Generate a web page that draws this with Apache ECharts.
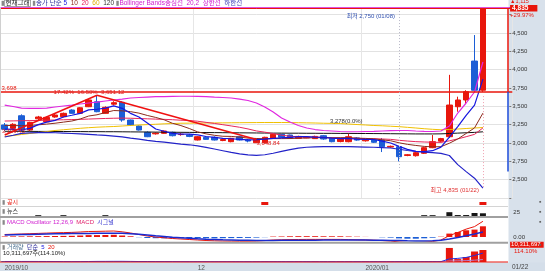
<!DOCTYPE html>
<html><head><meta charset="utf-8">
<script src="https://cdn.jsdelivr.net/npm/echarts@6/dist/echarts.min.js"></script>
<style>html,body{margin:0;padding:0;background:#fff}#c{width:545px;height:271px}</style>
</head><body><div id="c"></div>
<script>
const dates = ['2019/10/30','2019/10/31','2019/11/01','2019/11/04','2019/11/05','2019/11/06','2019/11/07','2019/11/08','2019/11/11','2019/11/12','2019/11/13','2019/11/14','2019/11/15','2019/11/18','2019/11/19','2019/11/20','2019/11/21','2019/11/22','2019/11/25','2019/11/26','2019/11/27','2019/11/28','2019/11/29','2019/12/02','2019/12/03','2019/12/04','2019/12/05','2019/12/06','2019/12/09','2019/12/10','2019/12/11','2019/12/12','2019/12/13','2019/12/16','2019/12/17','2019/12/18','2019/12/19','2019/12/20','2019/12/23','2019/12/24','2019/12/26','2019/12/27','2019/12/30','2020/01/02','2020/01/03','2020/01/06','2020/01/07','2020/01/08','2020/01/09','2020/01/10','2020/01/13','2020/01/14','2020/01/15','2020/01/16','2020/01/17','2020/01/20','2020/01/21','2020/01/22'];
const openP = [3246,3200,3372,3177,3330,3290,3355,3359,3450,3405,3495,3563,3405,3530,3555,3314,3232,3146,3125,3132,3146,3115,3109,3041,3078,3078,3034,3018,3086,3041,3004,3004,3064,3119,3109,3064,3070,3060,3100,3064,3020,3018,3070,3030,3040,3041,2945,2950,2830,2827,2860,2936,3025,3086,3495,3587,4118,3720];
const closeP = [3187,3255,3177,3282,3355,3350,3382,3405,3405,3481,3587,3427,3487,3550,3314,3245,3177,3086,3135,3164,3100,3120,3090,3086,3050,3041,3048,3064,3041,3027,3050,3078,3119,3078,3064,3090,3078,3090,3055,3018,3060,3086,3040,3045,3010,2950,2955,2813,2840,2868,2936,3018,3060,3518,3587,3700,3720,4835];
const lowP = [3164,3190,3154,3165,3300,3285,3345,3350,3400,3400,3490,3420,3400,3515,3290,3235,3170,3080,3115,3125,3090,3100,3080,3035,3045,3035,3025,3010,3035,3010,3000,2995,3060,3070,3055,3060,3065,3055,3045,3010,3010,3010,3030,3020,3000,2877,2935,2750,2820,2815,2850,2930,3015,3070,3427,3530,3700,3698];
const highP = [3273,3270,3391,3290,3370,3360,3395,3415,3460,3490,3600,3651,3500,3570,3570,3320,3240,3160,3145,3170,3155,3140,3125,3095,3085,3090,3060,3070,3095,3055,3060,3085,3130,3125,3115,3100,3090,3100,3110,3075,3070,3132,3080,3055,3050,3068,2965,2960,2850,2880,2945,3109,3070,3930,3632,3720,4473,4835];
const ma5 = [3190,3185,3180,3200,3251,3284,3309,3355,3379,3405,3452,3461,3477,3506,3473,3405,3355,3274,3191,3161,3132,3121,3122,3112,3089,3077,3063,3058,3049,3044,3046,3052,3063,3070,3078,3086,3086,3080,3075,3066,3060,3062,3052,3050,3048,3026,3000,2955,2914,2885,2882,2895,2944,3080,3224,3377,3517,3872];
const ma10 = [3240,3238,3236,3240,3248,3258,3270,3285,3300,3328,3368,3385,3416,3443,3439,3428,3408,3376,3349,3317,3269,3238,3198,3152,3125,3105,3092,3090,3080,3067,3062,3058,3060,3060,3061,3066,3069,3072,3073,3072,3073,3074,3066,3063,3057,3043,3031,3003,2982,2967,2954,2948,2950,2997,3055,3130,3206,3408];
const ma20 = [3300,3302,3304,3306,3308,3311,3314,3317,3320,3323,3327,3331,3335,3338,3340,3338,3334,3330,3326,3323,3318,3311,3307,3297,3282,3267,3250,3233,3215,3192,3165,3148,3129,3106,3093,3085,3080,3081,3077,3069,3067,3066,3063,3061,3059,3055,3050,3037,3027,3019,3014,3011,3008,3030,3056,3086,3118,3206];
const ma60 = [3089,3102,3116,3130,3143,3157,3171,3181,3191,3201,3209,3216,3221,3225,3232,3239,3246,3251,3256,3262,3266,3270,3271,3272,3273,3274,3275,3276,3277,3278,3279,3280,3280,3280,3279,3277,3275,3273,3270,3268,3266,3259,3252,3246,3239,3235,3229,3223,3214,3205,3195,3187,3181,3184,3191,3198,3205,3211];
const ma120 = [3160,3160,3159,3159,3158,3158,3157,3157,3156,3156,3155,3155,3154,3154,3153,3152,3151,3150,3149,3148,3147,3146,3145,3144,3143,3142,3141,3140,3139,3138,3137,3136,3135,3135,3134,3134,3133,3133,3132,3132,3131,3131,3130,3130,3129,3128,3127,3126,3125,3124,3124,3124,3125,3130,3135,3140,3145,3153];
const bbUpper = [3518,3498,3477,3473,3473,3477,3491,3505,3518,3532,3546,3559,3573,3587,3600,3614,3621,3627,3632,3634,3637,3638,3638,3637,3634,3627,3621,3614,3600,3580,3546,3491,3423,3341,3286,3239,3205,3184,3171,3164,3157,3154,3154,3157,3160,3164,3168,3171,3171,3164,3160,3157,3164,3232,3409,3546,3696,4105];
const bbLower = [3082,3106,3131,3139,3143,3145,3140,3135,3130,3125,3118,3110,3103,3095,3085,3068,3052,3036,3022,3012,2999,2984,2976,2962,2940,2918,2895,2872,2852,2838,2832,2840,2860,2885,2910,2930,2942,2948,2950,2950,2950,2950,2948,2945,2942,2938,2932,2915,2898,2885,2875,2868,2858,2830,2705,2610,2520,2385];
const volume = [420000,380000,650000,520000,300000,350000,280000,330000,310000,450000,720000,680000,420000,390000,560000,380000,330000,410000,260000,240000,230000,190000,210000,250000,200000,190000,170000,220000,180000,160000,210000,260000,300000,210000,180000,170000,150000,160000,190000,210000,200000,230000,180000,170000,210000,320000,200000,450000,230000,210000,280000,380000,330000,12100000,2500000,4300000,9037000,10311697];
const vol5 = [450000,440000,460000,470000,454000,440000,420000,366000,314000,344000,418000,498000,522000,562000,554000,486000,416000,414000,352000,324000,314000,266000,226000,224000,216000,208000,202000,206000,192000,184000,188000,206000,222000,228000,228000,224000,202000,174000,170000,178000,182000,198000,202000,198000,198000,222000,216000,270000,282000,278000,278000,310000,330000,2660000,3120000,3940000,5650000,7650000];
const vol20 = [400000,402000,408000,412000,410000,408000,405000,400000,398000,400000,410000,420000,425000,428000,432000,430000,425000,420000,412000,404000,396000,386000,372000,360000,346000,332000,318000,306000,294000,282000,270000,260000,252000,245000,238000,232000,226000,220000,215000,212000,210000,210000,210000,209000,209000,212000,214000,222000,225000,226000,230000,236000,245000,840000,955000,1160000,1600000,2100000];
const macd = [25,28,30,33,36,39,42,44,46,50,55,56,58,60,52,40,25,10,0,-8,-15,-20,-25,-30,-35,-38,-40,-41,-42,-42,-40,-36,-30,-28,-26,-25,-24,-24,-24,-24,-24,-26,-28,-30,-32,-36,-40,-50,-55,-56,-52,-45,-30,14,45,79,104,157];
const signal = [20,22,24,26,28,30,32,33,34,35,36,37,38,38,37,33,27,20,12,5,-2,-8,-13,-18,-22,-25,-28,-30,-32,-33,-34,-34,-34,-33,-33,-33,-32,-32,-31,-31,-31,-31,-31,-31,-32,-33,-34,-36,-38,-39,-39,-38,-33,-20,-5,12,30,50];
const osc = [5,6,6,7,8,9,10,11,12,15,19,19,20,22,15,7,-2,-10,-12,-13,-13,-12,-12,-12,-13,-13,-12,-11,-10,-9,-6,-2,4,5,7,8,8,8,7,7,7,5,3,1,0,-3,-6,-14,-17,-17,-13,-7,3,34,50,67,74,107];
const news = [0,0,0,0,6,0,0,6,0,0,0,0,6,0,0,0,0,0,0,0,0,0,0,0,0,0,0,0,0,0,0,0,0,0,0,0,0,0,0,0,0,0,0,0,0,0,0,0,0,0,6,6,0,28,7,7,22,20];
const disclosure = [0,0,0,0,0,0,0,0,0,0,0,0,0,0,0,0,0,0,0,0,0,0,0,0,0,0,0,0,0,0,0,1,0,0,0,0,0,0,0,0,0,0,0,0,0,0,0,0,0,0,0,0,0,0,0,0,0,1];
const priceTicks = [2500,2750,3000,3250,3500,3750,4000,4250,4500];
const xTickIndex = [0,23,43];
const xTickText = ['2019/10','12','2020/01'];
const lastDate = '01/22';

const RED='#e8160c', BLUE='#1c5ed6';
const FF = "'Liberation Sans','DejaVu Sans','Noto Sans CJK KR',sans-serif";
const cats = dates.concat([' ','  ','   ']);
const GL = 0.5, GW = 61*8.39;
const gridTops = [[7.4,190.6],[199,6],[207.5,8.5],[218,24],[244,18]];
const chart = echarts.init(document.getElementById('c'));

const xAxes = gridTops.map((g,i)=>({
  type:'category', gridIndex:i, data:cats, boundaryGap:true,
  axisLine:{show:false}, axisTick:{show:false},
  axisLabel:{show:false},
  splitLine:{show:false}
}));
xAxes[0].splitLine = {show:true, interval:(idx)=>idx===xTickIndex[1]||idx===xTickIndex[2], lineStyle:{color:'#e6e6e6',width:1}};
xAxes[4].axisLabel = {show:true, interval:(idx)=>xTickIndex.includes(idx), formatter:(v,idx)=>xTickText[xTickIndex.indexOf(idx)]||'', align:'left', margin:2.5, fontSize:6.5, color:'#555', fontFamily:FF};

const candle = dates.map((d,i)=>[openP[i],closeP[i],lowP[i],highP[i]]);
const lineS = (name,data,color,w,z)=>({name,type:'line',xAxisIndex:0,yAxisIndex:0,data,showSymbol:false,symbol:'none',silent:true,lineStyle:{color,width:w||1},z:z||3});
const lbl = (text,color,extra)=>Object.assign({show:true,formatter:text,color,fontSize:6,fontFamily:FF},extra||{});
const TS = 6.5;

const option = {
  animation:false,
  textStyle:{fontFamily:FF},
  graphic:{elements:[
    {type:'rect',shape:{x:508.5,y:0,width:37,height:271},style:{fill:'#d8e1eb'},z:-10},
    {type:'rect',shape:{x:0,y:262.5,width:545,height:9},style:{fill:'#d4dee9'},z:-10},
    {type:'line',shape:{x1:0.5,y1:7,x2:0.5,y2:262},style:{stroke:'#d0d0d0',lineWidth:1},z:50},
    {type:'line',shape:{x1:0,y1:206.5,x2:508,y2:206.5},style:{stroke:'#d4d4d4',lineWidth:1},z:50},
    {type:'line',shape:{x1:0,y1:217,x2:508,y2:217},style:{stroke:'#a0a0a0',lineWidth:2},z:50},
    {type:'line',shape:{x1:0,y1:242.8,x2:508,y2:242.8},style:{stroke:'#a0a0a0',lineWidth:2},z:50},
    {type:'line',shape:{x1:0,y1:262,x2:508,y2:262},style:{stroke:RED,lineWidth:1},z:50}
  ]},
  title:[
    {left:1,top:0,padding:0,text:'{g|▮}{bx|현재그래}{g| ▮}{n|종가 단순 }{c5|5}  {c10|10}  {c20|20}  {c60|60}  {c120|120} {g|▮}{m|Bollinger Bands중심선  20,2  상한선}  {lo|하한선}',
      textStyle:{fontSize:TS,fontWeight:'normal',fontFamily:FF,rich:{
        g:{color:'#888',fontSize:TS},bx:{color:'#222',fontSize:TS,borderColor:'#666',borderWidth:0.6,padding:[0,1]},
        n:{color:'#2a2a9a',fontSize:TS},c5:{color:'#1515e0',fontSize:TS},c10:{color:'#8c2a1c',fontSize:TS},c20:{color:'#e8245a',fontSize:TS},
        c60:{color:'#e0b000',fontSize:TS},c120:{color:'#333',fontSize:TS},m:{color:'#d020d0',fontSize:TS},lo:{color:'#3a3ab8',fontSize:TS}}}},
    {left:2,top:199.5,padding:0,text:'{g|▮} {r|공시}',textStyle:{fontSize:6,fontWeight:'normal',rich:{g:{color:'#888',fontSize:6},r:{color:RED,fontSize:6}}}},
    {left:2,top:208.5,padding:0,text:'{g|▮} {k|뉴스}',textStyle:{fontSize:6,fontWeight:'normal',rich:{g:{color:'#888',fontSize:6},k:{color:'#222',fontSize:6}}}},
    {left:2,top:219,padding:0,text:'{g|▮} {m|MACD Oscillator 12,26,9}  {r|MACD}  {b|시그널}',textStyle:{fontSize:6,fontWeight:'normal',rich:{g:{color:'#888',fontSize:6},m:{color:'#d020d0',fontSize:6},r:{color:'#e0206a',fontSize:6},b:{color:'#3a3ad0',fontSize:6}}}},
    {left:2,top:244.5,padding:0,text:'{g|▮} {t|거래량}  {n|단순}  {b|5}  {r|20}',textStyle:{fontSize:6,fontWeight:'normal',rich:{g:{color:'#888',fontSize:6},t:{color:'#4a7090',fontSize:6},n:{color:'#2a2a9a',fontSize:6},b:{color:'#1515e0',fontSize:6},r:{color:RED,fontSize:6}}}},
    {left:3,top:250.5,padding:0,text:'10,311,697주(114.10%)',textStyle:{fontSize:6,fontWeight:'normal',color:'#222'}},
    {left:512,top:264,padding:0,text:lastDate,textStyle:{fontSize:6.5,fontWeight:'normal',color:'#444'}},
    {left:539,top:199,padding:0,text:'▪',textStyle:{fontSize:7,color:'#666'}},
    {left:539,top:208.5,padding:0,text:'▪',textStyle:{fontSize:7,color:'#666'}},
    {left:539,top:218.5,padding:0,text:'▪',textStyle:{fontSize:7,color:'#666'}},
    {left:539,top:242,padding:0,text:'▪',textStyle:{fontSize:7,color:'#666'}}
  ],
  grid: gridTops.map(g=>({left:GL,width:GW,top:g[0],height:g[1],containLabel:false})),
  xAxis: xAxes,
  yAxis:[
    {type:'value',gridIndex:0,position:'right',offset:-3,min:2250,max:4850,interval:250,scale:false,
      axisLine:{show:false},axisTick:{show:true,length:2,lineStyle:{color:'#777'}},
      axisLabel:{margin:3,fontSize:6,color:'#333',fontFamily:FF,formatter:v=>priceTicks.includes(v)?v.toLocaleString('en-US'):''},
      splitLine:{show:true,lineStyle:{color:'#e2e2e2',width:1}}},
    {type:'value',gridIndex:1,min:0,max:2,show:false},
    {type:'value',gridIndex:2,position:'right',offset:-3,min:0,max:62.5,interval:25,
      axisLine:{show:false},axisTick:{show:false},splitLine:{show:false},
      axisLabel:{margin:4,fontSize:6,color:'#333',formatter:v=>v===25?'25':''}},
    {type:'value',gridIndex:3,position:'right',offset:-3,min:-50,max:190,interval:50,
      axisLine:{show:false},axisTick:{show:false},splitLine:{show:false},
      axisLabel:{margin:4,fontSize:6,color:'#333',formatter:v=>v===0?'0.00':''}},
    {type:'value',gridIndex:4,min:0,max:15500000,show:false}
  ],
  series:[
    {type:'candlestick',xAxisIndex:0,yAxisIndex:0,data:candle,barWidth:6,z:2,
      itemStyle:{color:RED,color0:BLUE,borderColor:RED,borderColor0:BLUE,borderWidth:1},
      markLine:{symbol:['none','none'],silent:true,animation:false,label:{show:false},
        data:[
          {yAxis:4850,lineStyle:{color:'#e020e0',width:1.5,type:'solid'}},
          {yAxis:4835,lineStyle:{color:RED,width:1,type:'solid'}},
          {yAxis:3698,lineStyle:{color:RED,width:1.6,type:'solid'},label:lbl('3,698',RED,{position:'insideStartTop',distance:1})},
          [{coord:[60,3698],lineStyle:{color:RED,width:1.5,type:'solid'}},{coord:[60,4835]}],
          [{coord:[60,3698],lineStyle:{color:'#1a4ad8',width:1.5,type:'solid'}},{coord:[60,2610]}],
          [{coord:[0,3109.45],lineStyle:{color:'#f01010',width:1.5,type:'solid'}},{coord:[11,3651.12]}],
          [{coord:[11,3651.12],lineStyle:{color:'#f01010',width:1.5,type:'solid'}},{coord:[30,3048.84]}],
          [{coord:[47,4800],lineStyle:{color:'#b8b8c8',width:1,type:[1,2]}},{coord:[47,2270]}],
          [{coord:[57,3640],lineStyle:{color:'#f0a0b0',width:1,type:[1,2]}},{coord:[57,2380]}]
        ]},
      markPoint:{symbol:'circle',symbolSize:0,silent:true,animation:false,
        data:[
          {coord:[60,4835],label:{show:true,position:'right',distance:2,formatter:'{u|▲1,115}\n{p|4,835}\n{r|+29.97%}',
            rich:{u:{color:RED,fontSize:5.5,lineHeight:6},p:{color:'#fff',backgroundColor:RED,fontSize:6.5,lineHeight:7,padding:[0,9,0,2],fontWeight:'bold'},r:{color:RED,fontSize:6,lineHeight:6.5}}}},
          {coord:[11,3651.12],label:lbl('17.42%  16.50%  3,651.12','#e02020',{position:'top',distance:1,offset:[-8,1]})},
          {coord:[0,3109.45],label:lbl('3,109.45','#e02020',{position:[-3,-7]})},
          {coord:[30,3048.84],label:lbl('3,048.84','#e02020',{position:[0,1]})},
          {coord:[39,3273],label:lbl('3,278(0.0%)','#333',{position:[-2,-5]})},
          {coord:[47,4730],label:lbl('최저 2,750 (01/08)','#3050b0',{position:'left',distance:4})},
          {coord:[57,2355],label:lbl('최고 4,835 (01/22)','#e03030',{position:'left',distance:4})}
        ]}
    },
    lineS('MA120',ma120,'#111',1,3),
    lineS('MA60',ma60,'#f0c000',1,3),
    lineS('BB하한선',bbLower,'#2222c8',1.2,3),
    lineS('BB상한선',bbUpper,'#e028e0',1.2,3),
    lineS('MA20',ma20,'#e8245a',1,3),
    lineS('MA10',ma10,'#8c2a1c',1,3),
    lineS('MA5',ma5,'#1515e0',1.2,3),
    {type:'bar',xAxisIndex:1,yAxisIndex:1,data:disclosure,barWidth:7,itemStyle:{color:RED},silent:true},
    {type:'bar',xAxisIndex:2,yAxisIndex:2,data:news,barWidth:6,itemStyle:{color:'#151515'},silent:true},
    {type:'bar',xAxisIndex:3,yAxisIndex:3,barWidth:6,silent:true,
      data:osc.map(v=>({value:v,itemStyle:{color:v>=0?RED:BLUE}}))},
    {type:'line',xAxisIndex:3,yAxisIndex:3,data:macd,showSymbol:false,symbol:'none',silent:true,lineStyle:{color:RED,width:1},z:3},
    {type:'line',xAxisIndex:3,yAxisIndex:3,data:signal,showSymbol:false,symbol:'none',silent:true,lineStyle:{color:'#1a2ad0',width:1.5},z:3},
    {type:'bar',xAxisIndex:4,yAxisIndex:4,barWidth:7,barMinHeight:1,silent:true,
      data:volume.map((v,i)=>({value:v,itemStyle:{color:closeP[i]>=(i>0?closeP[i-1]:openP[i])?RED:BLUE}})),
      markPoint:{symbol:'circle',symbolSize:0,silent:true,animation:false,
        data:[{coord:[60,10311697],label:{show:true,position:'right',distance:2,offset:[0,-2],formatter:'{a|10,311,697}\n{b|114.10%}',
          rich:{a:{color:'#fff',backgroundColor:RED,fontSize:6,lineHeight:6.5,padding:[0,3,0,1]},b:{color:RED,fontSize:6,lineHeight:6.5,padding:[0,0,0,4]}}}}]}},
    {type:'line',xAxisIndex:4,yAxisIndex:4,data:vol20,showSymbol:false,symbol:'none',silent:true,lineStyle:{color:'#b080d0',width:1},z:3},
    {type:'line',xAxisIndex:4,yAxisIndex:4,data:vol5,showSymbol:false,symbol:'none',silent:true,lineStyle:{color:'#2030e0',width:1},z:3}
  ]
};
chart.setOption(option);
</script>
</body></html>
